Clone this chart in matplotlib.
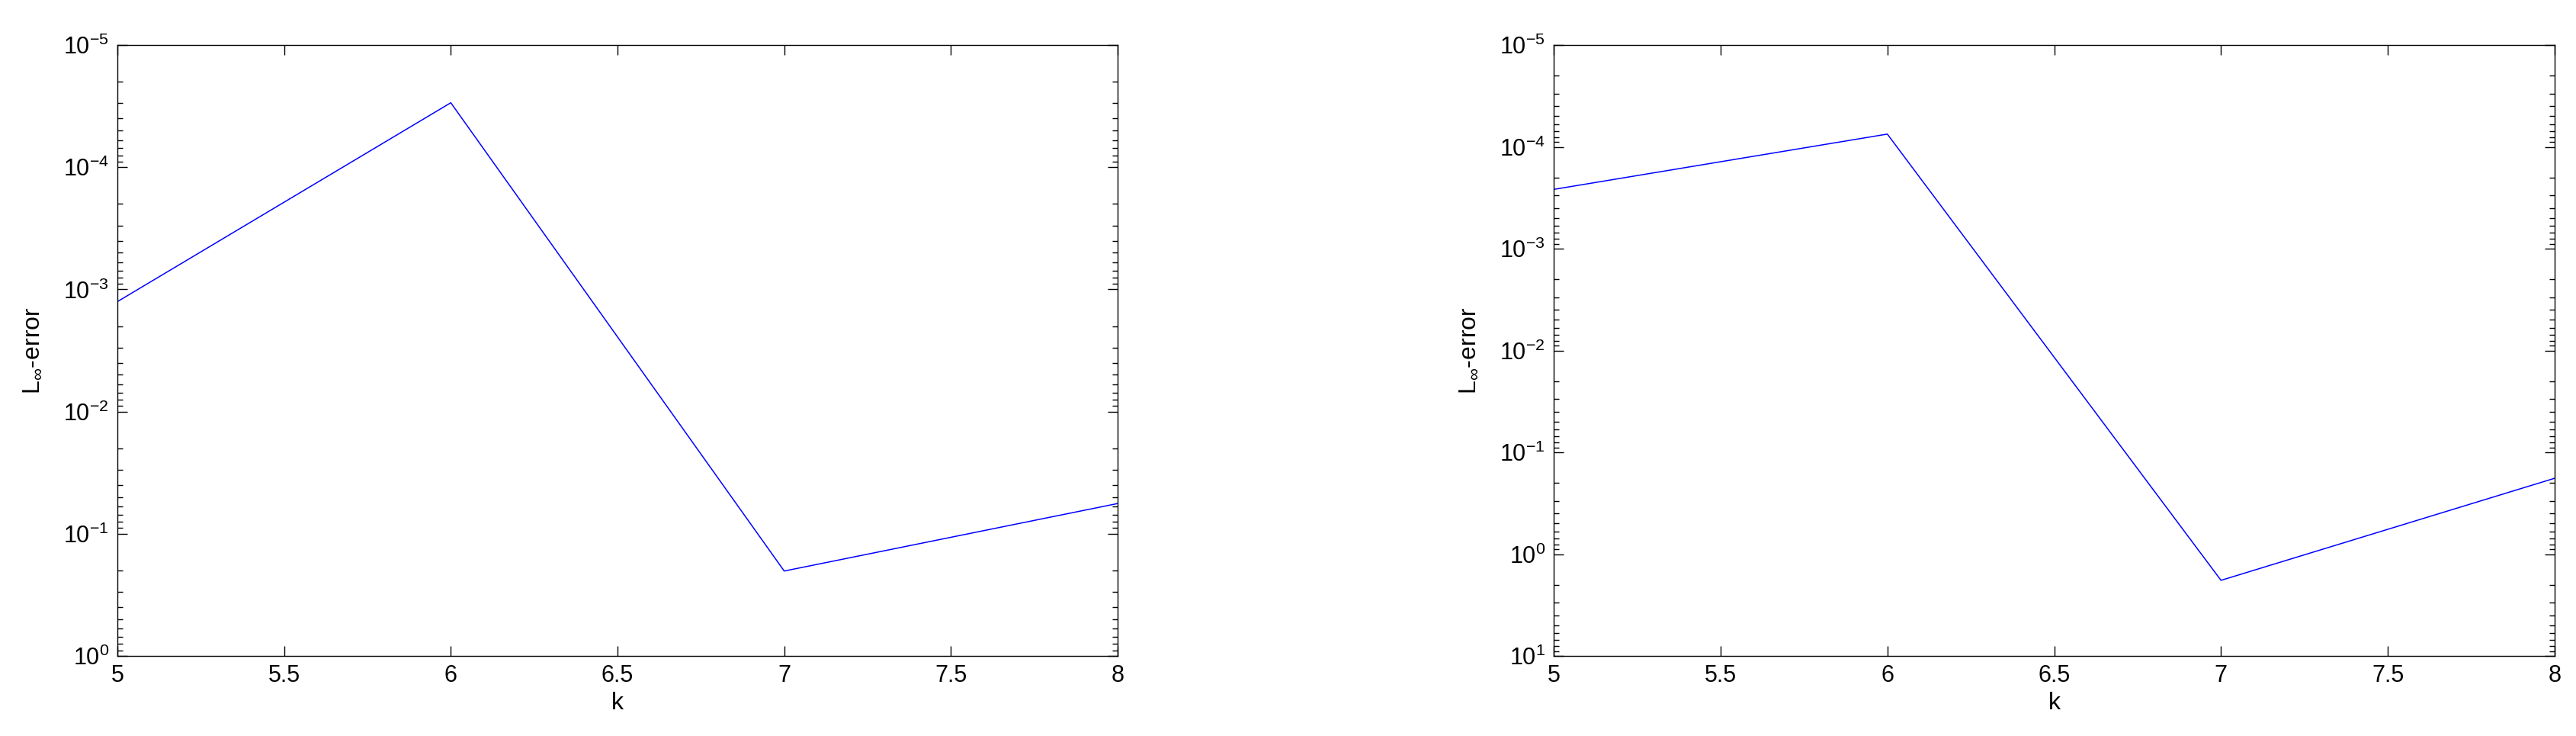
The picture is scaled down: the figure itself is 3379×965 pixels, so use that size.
import matplotlib
matplotlib.use("Agg")
import matplotlib.pyplot as plt
from matplotlib.ticker import LogLocator, NullLocator, FixedLocator

plt.rcParams['font.family'] = ['Liberation Sans', 'DejaVu Sans']
plt.rcParams['mathtext.fontset'] = 'custom'
plt.rcParams['mathtext.rm'] = 'Liberation Sans'
plt.rcParams['mathtext.it'] = 'Liberation Sans'
plt.rcParams['mathtext.default'] = 'regular'
plt.rcParams['mathtext.fallback'] = 'stixsans'

# data
k = [5, 6, 7, 8]
err_left = [1.26e-3, 2.97e-5, 0.202, 0.0566]
err_right = [2.62e-4, 7.5e-5, 1.81, 0.18]
xticks = [5, 5.5, 6, 6.5, 7, 7.5, 8]
ylim_left = (1e-5, 1e0)
ylim_right = (1e-5, 1e1)
xlabel = "k"
ylabel = r"$L_{\infty}$-error"

fig = plt.figure(figsize=(33.8, 9.65), dpi=100)
W, H = 3380, 965
axes_px = [(154, 1466), (2038, 3351)]
top_px, bot_px = 59, 860

panels = [(err_left, ylim_left), (err_right, ylim_right)]
for (x0, x1), (err, ylim) in zip(axes_px, panels):
    ax = fig.add_axes([x0 / W, (H - bot_px) / H, (x1 - x0) / W, (bot_px - top_px) / H])
    ax.plot(k, err, color=(0, 0, 1), lw=1.1)
    ax.set_yscale('log')
    ax.set_xlim(5, 8)
    ax.set_ylim(ylim[1], ylim[0])  # inverted
    ax.xaxis.set_major_locator(FixedLocator(xticks))
    ax.set_xticklabels([f"{t:g}" for t in xticks])
    ax.xaxis.set_minor_locator(NullLocator())
    ax.yaxis.set_major_locator(LogLocator(base=10, numticks=20))
    ax.yaxis.set_minor_locator(LogLocator(base=10, subs=range(2, 10), numticks=20))
    ax.tick_params(which='both', direction='in', top=True, right=True, width=1.0)
    ax.tick_params(which='major', length=9.4, labelsize=22)
    ax.tick_params(which='minor', length=5)
    ax.tick_params(axis='y', which='major', pad=8)
    ax.tick_params(axis='x', which='major', pad=8)
    for s in ax.spines.values():
        s.set_linewidth(1.0)
    ax.set_xlabel(xlabel, fontsize=23, labelpad=4)
    ax.set_ylabel(ylabel, fontsize=23)
    ax.yaxis.set_label_coords(-0.073, 0.5)

fig.savefig("out.png", dpi=100, facecolor='white')
